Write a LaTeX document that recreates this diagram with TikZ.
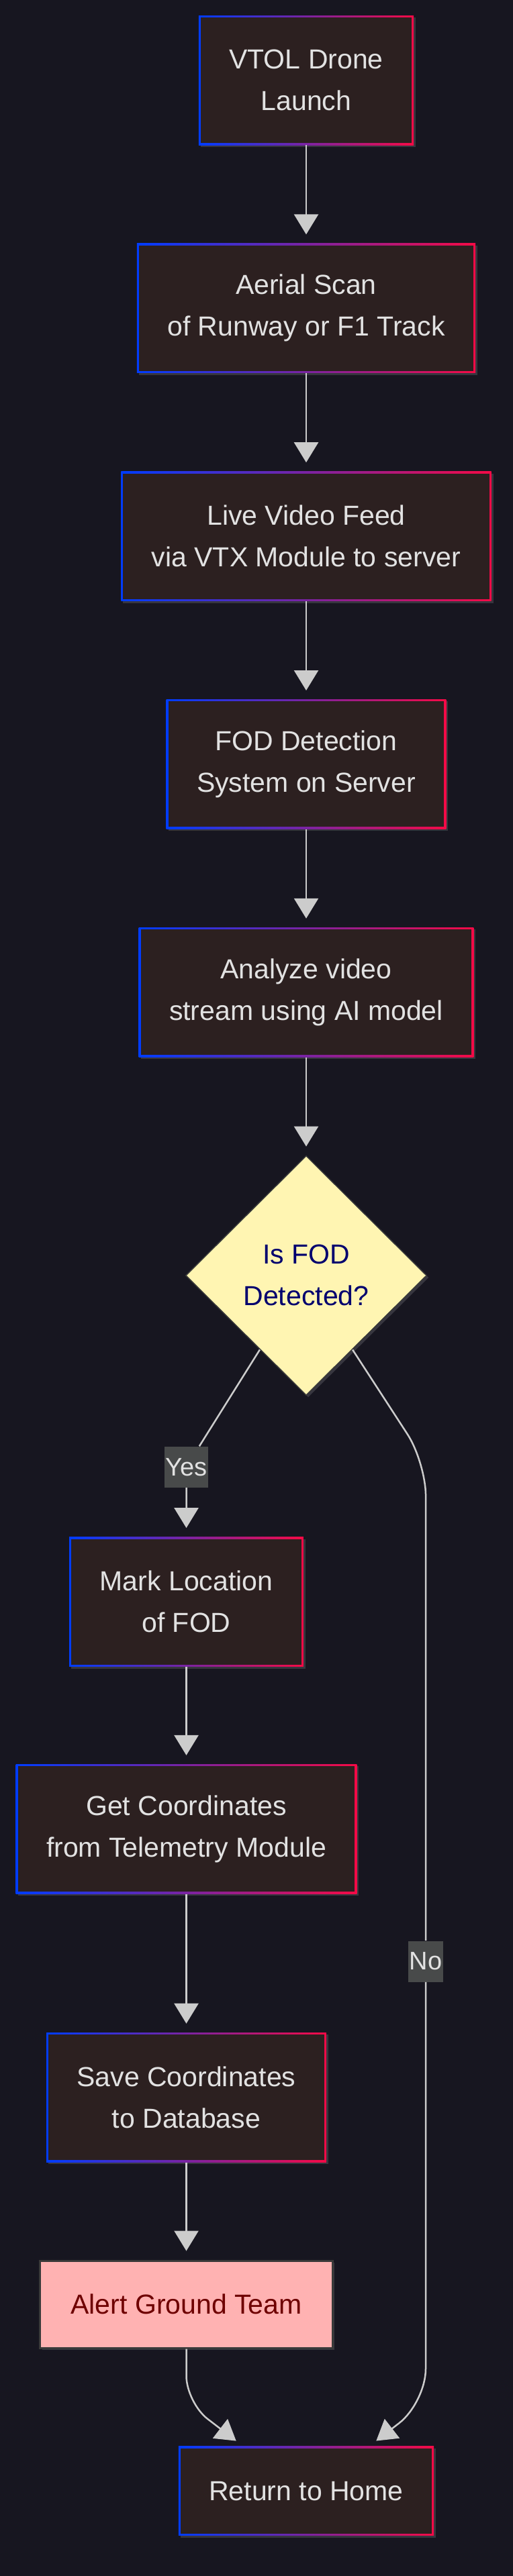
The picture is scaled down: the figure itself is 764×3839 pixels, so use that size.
\documentclass[tikz,border=0pt]{standalone}
\usepackage{fontspec}
\setmainfont{Liberation Sans}
\usetikzlibrary{positioning,shapes.geometric,arrows.meta,calc,shadows}

\definecolor{bgdark}{RGB}{23,22,32}
\definecolor{boxfill}{RGB}{44,32,32}
\definecolor{bordblue}{RGB}{0,60,255}
\definecolor{bordred}{RGB}{245,10,70}
\definecolor{textlight}{RGB}{226,226,226}
\definecolor{edgegray}{RGB}{204,204,204}
\definecolor{qfill}{RGB}{255,245,178}
\definecolor{qtext}{RGB}{0,0,110}
\definecolor{alertfill}{RGB}{255,178,178}
\definecolor{alerttext}{RGB}{110,0,0}
\definecolor{tagfill}{RGB}{72,74,74}

\begin{document}
\begin{tikzpicture}[x=0.5pt, y=-0.5pt,
    every node/.style={font=\fontsize{20.5pt}{31pt}\selectfont, align=center},
    glow/.style={drop shadow={shadow xshift=1.5pt, shadow yshift=-1.5pt, fill=white, opacity=0.14}},
    stage/.style={rectangle, glow, left color=bordblue, right color=bordred, text=textlight,
        inner xsep=22.75pt, minimum height=96.5pt,
        path picture={\fill[boxfill] ([shift={(1.5pt,1.5pt)}]path picture bounding box.south west)
            rectangle ([shift={(-1.5pt,-1.5pt)}]path picture bounding box.north east);}},
    query/.style={diamond, glow, fill=qfill, draw=gray!45!black, line width=0.75pt, text=qtext,
        minimum width=179.5pt, minimum height=178.5pt, inner sep=0pt},
    alarm/.style={rectangle, glow, fill=alertfill, draw=gray!45!black, line width=1.5pt,
        text=alerttext, inner xsep=22.75pt, minimum height=65pt},
    tag/.style={fill=tagfill, text=textlight, font=\fontsize{19pt}{30pt}\selectfont,
        inner xsep=1pt, inner ysep=0pt, minimum height=30.5pt},
    flow/.style={draw=edgegray, line width=1.25pt, -{Triangle[width=18pt,length=15pt]}, shorten >=6.5pt}]

\useasboundingbox (0,0) rectangle (764,3839);
\fill[bgdark] (0,0) rectangle (764,3839);

\node[stage] (launch) at (456,119.5) {VTOL Drone\\Launch};
\node[stage] (scan) [below=73pt of launch] {Aerial Scan\\of Runway or F1 Track};
\node[stage] (feed) [below=73pt of scan] {Live Video Feed\\via VTX Module to server};
\node[stage] (fodsys) [below=73pt of feed] {FOD Detection\\System on Server};
\node[stage] (analyze) [below=73pt of fodsys] {Analyze video\\stream using AI model};
\node[query] (decide) [below=73pt of analyze] {Is FOD\\Detected?};
\node[stage] (mark) [below=105pt of decide, xshift=-89.25pt] {Mark Location\\of FOD};
\node[stage] (coords) [below=72.5pt of mark] {Get Coordinates\\from Telemetry Module};
\node[stage] (save) [below=103pt of coords] {Save Coordinates\\to Database};
\node[alarm] (alert) [below=72.5pt of save] {Alert Ground Team};
\node[stage, minimum height=66.5pt] (home) [below=72.5pt of alert, xshift=89.25pt] {Return to Home};
\node[tag] (yes) [above=36.5pt of mark] {Yes};
\node[tag] (no) at (634,2923) {No};

\coordinate (nobend) at ($(decide.302)+(54.5pt,-84pt)$);
\coordinate (lbend) at ($(alert.south)+(0,-40pt)$);
\coordinate (rbend) at (lbend -| no);

\path
    (launch) edge[flow] (scan)
    (scan) edge[flow] (feed)
    (feed) edge[flow] (fodsys)
    (fodsys) edge[flow] (analyze)
    (analyze) edge[flow] (decide)
    (mark) edge[flow] (coords)
    (coords) edge[flow] (save)
    (save) edge[flow] (alert);
\draw[flow] (decide.238) -- (yes) -- (mark);
\draw[flow, rounded corners=25pt] (decide.302) -- (nobend) -- (no) -- (rbend) -- ([xshift=47pt]home.north);
\draw[flow, rounded corners=20pt] (alert) -- (lbend) -- ([xshift=-47pt]home.north);
\end{tikzpicture}
\end{document}
